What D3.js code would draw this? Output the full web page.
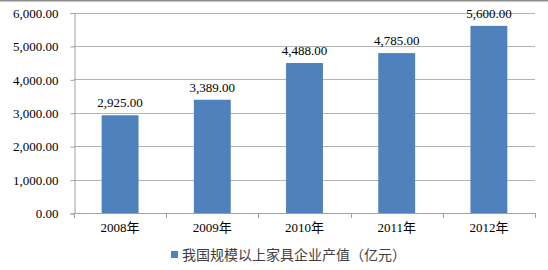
<!DOCTYPE html>
<html>
<head>
<meta charset="utf-8">
<script src="https://cdn.jsdelivr.net/npm/d3@7"></script>
<style>
  body { margin: 0; background: #fff; }
  svg { display: block; font-family: "Liberation Serif", "Noto Sans CJK SC", serif; }
</style>
</head>
<body>
<svg id="chart"></svg>
<script>
var years = ["2008年", "2009年", "2010年", "2011年", "2012年"]
var values = [2925, 3389, 4488, 4785, 5600]
var yTicks = [0, 1000, 2000, 3000, 4000, 5000, 6000]
var seriesName = "我国规模以上家具企业产值（亿元）"

var dimensions = {
    width: 548,
    height: 270,
    margin: { top: 12.5, bottom: 57, right: 13, left: 74 }
}

var svg = d3.select("#chart")
            .attr("width", dimensions.width)
            .attr("height", dimensions.height)

// top border
svg.append("line")
   .attr("x1", 0).attr("x2", dimensions.width)
   .attr("y1", 0.5).attr("y2", 0.5)
   .attr("stroke", "#8c8c8c").attr("stroke-width", 2)

var xScale = d3.scaleBand()
               .domain(years)
               .range([dimensions.margin.left, dimensions.width - dimensions.margin.right])
               .paddingInner(0.6)
               .paddingOuter(0.3)

var yScale = d3.scaleLinear()
               .domain([0, 6000])
               .range([dimensions.height - dimensions.margin.bottom, dimensions.margin.top])

var fmt = d3.format(",.2f")

// gridlines
svg.append("g")
   .selectAll("line")
   .data(yTicks.slice(1))
   .enter()
   .append("line")
   .attr("x1", dimensions.margin.left)
   .attr("x2", dimensions.width - dimensions.margin.right)
   .attr("y1", d => Math.round(yScale(d)) + 0.5)
   .attr("y2", d => Math.round(yScale(d)) + 0.5)
   .attr("stroke", "#b4b4b4")

// y axis
var yAxisGen = d3.axisLeft(yScale).tickValues(yTicks).tickFormat(fmt).tickSize(4).tickPadding(12)
var yAxis = svg.append("g")
               .attr("transform", `translate(${dimensions.margin.left + 0.5},0.5)`)
               .call(yAxisGen)
yAxis.select(".domain").attr("stroke", "#a0a0a0")
yAxis.selectAll(".tick line").attr("stroke", "#a0a0a0")
yAxis.selectAll("text").attr("font-size", 13).attr("fill", "#000")
     .attr("font-family", "Liberation Serif")

// bars
svg.append("g")
   .selectAll("rect")
   .data(values)
   .enter()
   .append("rect")
   .attr("x", (d, i) => xScale(years[i]))
   .attr("y", d => yScale(d))
   .attr("width", xScale.bandwidth())
   .attr("height", d => yScale(0) - yScale(d))
   .attr("fill", "#4f81bd")

// x axis with ticks at category boundaries
var x0 = yScale(0)
var bounds = d3.range(years.length + 1).map(i => dimensions.margin.left + i * (dimensions.width - dimensions.margin.left - dimensions.margin.right) / years.length)
svg.append("line")
   .attr("x1", dimensions.margin.left).attr("x2", dimensions.width - dimensions.margin.right)
   .attr("y1", Math.round(x0) + 0.5).attr("y2", Math.round(x0) + 0.5)
   .attr("stroke", "#a0a0a0")
svg.append("g")
   .selectAll("line")
   .data(bounds)
   .enter()
   .append("line")
   .attr("x1", d => Math.round(d) + 0.5).attr("x2", d => Math.round(d) + 0.5)
   .attr("y1", Math.round(x0)).attr("y2", Math.round(x0) + 5)
   .attr("stroke", "#a0a0a0")

svg.append("g")
   .selectAll("text")
   .data(years)
   .enter()
   .append("text")
   .attr("x", d => xScale(d) + xScale.bandwidth() / 2)
   .attr("y", x0 + 19)
   .attr("text-anchor", "middle")
   .attr("font-size", 13)
   .text(d => d)

// value labels
svg.append("g")
   .selectAll("text")
   .data(values)
   .enter()
   .append("text")
   .attr("x", (d, i) => xScale(years[i]) + xScale.bandwidth() / 2)
   .attr("y", d => yScale(d) - 8)
   .attr("text-anchor", "middle")
   .attr("font-size", 13)
   .attr("font-family", "Liberation Serif")
   .text(d => fmt(d))

// legend
var legend = svg.append("g").attr("transform", "translate(171,251)")
legend.append("rect").attr("width", 7).attr("height", 7).attr("fill", "#4f81bd")
legend.append("text")
      .attr("x", 11).attr("y", 9)
      .attr("font-size", 14)
      .attr("fill", "#404040")
      .attr("font-family", "Noto Sans CJK SC")
      .text(seriesName)
</script>
</body>
</html>
